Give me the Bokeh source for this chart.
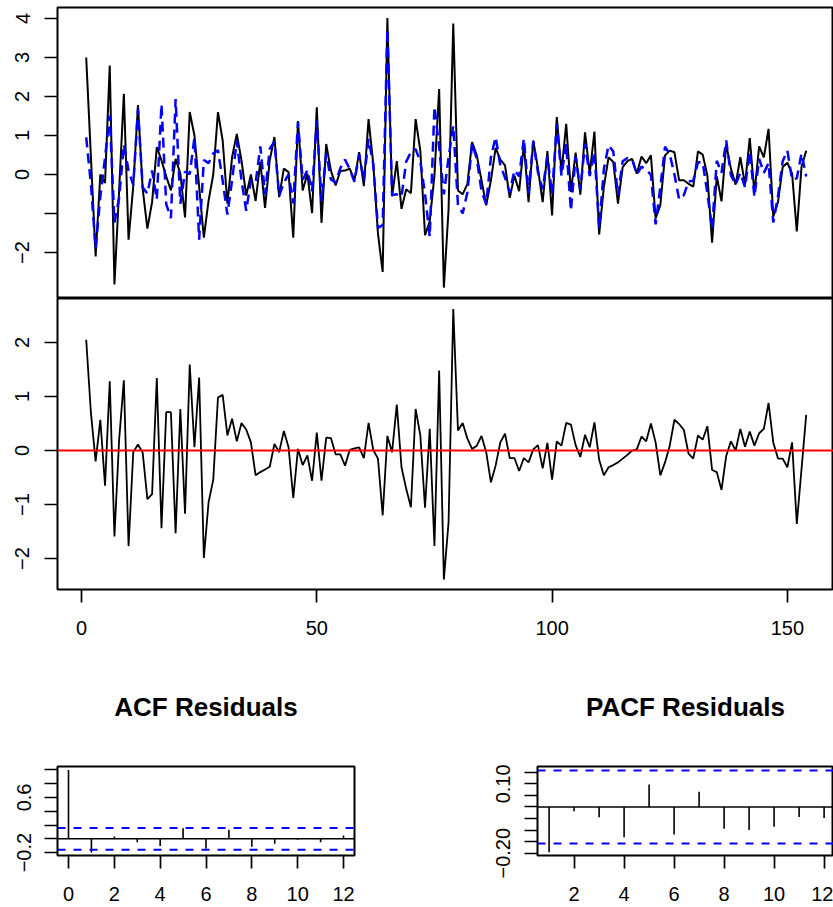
from bokeh.plotting import figure
from bokeh.layouts import column, row
from bokeh.models import FixedTicker, Span, Range1d
from bokeh.embed import file_html
from bokeh.resources import INLINE

# ---------------- data ----------------
time_index = list(range(1, 155))

actual = [3.0, 0.45, -2.1, 0.0, -0.22, 2.79, -2.82, -0.4, 2.07, -1.67,
          -0.3, 1.78, -0.37, -1.39, -0.71, 0.7, 0.36, -0.05, -0.41, 0.4,
          0.02, -1.1, 1.6, 1.0, -0.32, -1.62, -0.67, 0.0, 1.6, 0.87,
          -0.75, 0.44, 1.04, 0.36, -0.54, 0.0, -0.68, 0.32, -0.86, 0.36,
          0.96, -0.58, 0.15, 0.06, -1.62, 1.37, -0.41, 0.02, -0.99, 1.72,
          -1.24, 0.78, 0.1, -0.28, 0.09, 0.1, 0.15, -0.15, 0.57, -0.3,
          1.42, 0.27, -1.52, -2.5, 4.01, -0.56, 0.34, -0.88, -0.38, -0.48,
          1.42, 0.61, -1.56, -1.2, -0.03, 2.19, -2.9, -0.9, 3.87, -0.41,
          -0.51, -0.24, 0.83, 0.49, -0.15, -0.79, -0.15, 0.68, 0.38, 0.23,
          -0.6, -0.03, -0.43, 0.78, -0.71, 0.87, 0.15, -0.71, 0.6, -1.05,
          1.47, 0.06, 1.3, -0.45, 0.56, -0.52, 1.08, 0.02, 1.1, -1.54,
          -0.32, 0.44, 0.32, -0.75, 0.19, 0.34, 0.4, 0.02, 0.46, 0.29,
          0.49, -1.13, -0.79, 0.49, 0.61, 0.57, -0.15, -0.15, -0.24, -0.31,
          0.59, 0.51, -0.03, -1.75, -0.05, -0.69, 0.77, 0.15, -0.26, 0.44,
          -0.26, 0.93, -0.48, 0.72, 0.44, 1.17, -1.08, -0.71, 0.19, 0.3,
          0.02, -1.46, 0.19, 0.61]

fitted = [0.95, -0.25, -1.9, -0.57, 0.43, 1.51, -1.23, -0.6, 0.77, 0.1,
          -0.27, 1.67, -0.33, -0.49, 0.1, -0.64, 1.8, -0.76, -1.12, 1.93,
          -0.75, 0.07, 0.01, 0.94, -1.67, 0.37, 0.29, 0.54, 0.62, -0.16,
          -1.03, -0.15, 0.87, -0.15, -0.93, -0.15, -0.22, 0.72, -0.51, 0.66,
          0.84, -0.55, -0.21, 0.0, -0.74, 1.34, -0.14, 0.11, -0.43, 1.39,
          -0.68, 0.54, -0.13, -0.21, 0.16, 0.38, 0.14, -0.19, 0.51, -0.16,
          0.91, 0.26, -1.37, -1.3, 3.74, -0.53, -0.51, -0.57, 0.33, 0.57,
          0.65, 0.33, -0.5, -1.6, 1.74, 0.71, -0.51, 0.43, 1.25, -0.78,
          -1.0, -0.46, 0.8, 0.4, -0.42, -0.76, 0.44, 0.96, 0.23, -0.08,
          -0.46, 0.11, -0.05, 0.92, -0.49, 0.85, 0.05, -0.38, 0.46, -0.51,
          1.3, -0.03, 0.79, -0.93, 0.46, -0.4, 0.79, -0.04, 0.58, -1.37,
          0.14, 0.75, 0.59, -0.53, 0.34, 0.42, 0.4, 0.0, 0.2, 0.12,
          -0.01, -1.28, -0.33, 0.71, 0.52, 0.0, -0.64, -0.53, -0.18, -0.16,
          0.31, 0.31, -0.48, -1.39, 0.35, 0.04, 0.87, -0.02, -0.26, 0.04,
          -0.33, 0.58, -0.57, 0.4, 0.04, 0.29, -1.23, -0.56, 0.34, 0.61,
          -0.13, -0.1, 0.54, -0.05]

residuals = [2.05, 0.7, -0.2, 0.57, -0.65, 1.28, -1.59, 0.2, 1.3, -1.77,
             -0.03, 0.11, -0.04, -0.9, -0.81, 1.34, -1.44, 0.71, 0.71, -1.53,
             0.77, -1.17, 1.59, 0.06, 1.35, -1.99, -0.96, -0.54, 0.98, 1.03,
             0.28, 0.59, 0.17, 0.51, 0.39, 0.15, -0.46, -0.4, -0.35, -0.3,
             0.12, -0.03, 0.36, 0.06, -0.88, 0.03, -0.27, -0.09, -0.56, 0.33,
             -0.56, 0.24, 0.23, -0.07, -0.07, -0.28, 0.01, 0.04, 0.06, -0.14,
             0.51, 0.01, -0.15, -1.2, 0.27, -0.03, 0.85, -0.31, -0.71, -1.05,
             0.77, 0.28, -1.06, 0.4, -1.77, 1.48, -2.39, -1.33, 2.62, 0.37,
             0.51, 0.22, 0.03, 0.09, 0.27, -0.03, -0.59, -0.28, 0.15, 0.31,
             -0.14, -0.14, -0.38, -0.14, -0.22, 0.02, 0.1, -0.33, 0.14, -0.54,
             0.17, 0.09, 0.51, 0.48, 0.1, -0.12, 0.29, 0.06, 0.52, -0.17,
             -0.46, -0.31, -0.27, -0.22, -0.15, -0.08, 0.0, 0.02, 0.26, 0.17,
             0.5, 0.15, -0.46, -0.22, 0.09, 0.57, 0.49, 0.38, -0.06, -0.15,
             0.28, 0.2, 0.45, -0.36, -0.4, -0.73, -0.1, 0.17, 0.0, 0.4,
             0.07, 0.35, 0.09, 0.32, 0.4, 0.88, 0.15, -0.15, -0.15, -0.31,
             0.15, -1.36, -0.35, 0.66]

acf_lags = list(range(0, 13))
acf_values = [1.0, -0.2, 0.034, -0.048, -0.106, 0.155, -0.145, 0.13, -0.115,
              -0.073, -0.015, -0.048, 0.048]
pacf_lags = list(range(1, 13))
pacf_values = [-0.196, -0.019, -0.044, -0.131, 0.097, -0.119, 0.066, -0.094,
               -0.1, -0.086, -0.043, -0.048]
conf_limit = 0.158

acf_title = "ACF Residuals"
pacf_title = "PACF Residuals"

ts_x_ticks = [0, 50, 100, 150]
ts_x_labels = {0: "0", 50: "50", 100: "100", 150: "150"}
top_y_ticks = [-2, -1, 0, 1, 2, 3, 4]
top_y_labels = {-2: "\u22122", -1: "", 0: "0", 1: "1", 2: "2", 3: "3", 4: "4"}
res_y_ticks = [-2, -1, 0, 1, 2]
res_y_labels = {-2: "\u22122", -1: "\u22121", 0: "0", 1: "1", 2: "2"}
acf_x_ticks = [0, 2, 4, 6, 8, 10, 12]
acf_x_labels = {0: "0", 2: "2", 4: "4", 6: "6", 8: "8", 10: "10", 12: "12"}
acf_y_ticks = [-0.2, 0.0, 0.2, 0.4, 0.6, 0.8, 1.0]
acf_y_labels = {-0.2: "\u22120.2", 0.0: "", 0.2: "", 0.4: "", 0.6: "0.6", 0.8: "", 1.0: ""}
pacf_x_ticks = [2, 4, 6, 8, 10, 12]
pacf_x_labels = {2: "2", 4: "4", 6: "6", 8: "8", 10: "10", 12: "12"}
pacf_y_ticks = [-0.2, -0.15, -0.1, -0.05, 0.0, 0.05, 0.1, 0.15]
pacf_y_labels = {-0.2: "\u22120.20", -0.15: "", -0.1: "", -0.05: "", 0.0: "",
                 0.05: "", 0.1: "0.10", 0.15: ""}

FONT = "Liberation Sans"


def base_fig(**kw):
    p = figure(output_backend="svg", toolbar_location=None, **kw)
    p.xgrid.visible = False
    p.ygrid.visible = False
    p.outline_line_color = "black"
    p.outline_line_width = 2
    p.background_fill_color = "white"
    p.border_fill_color = "white"
    return p


def style_axis(ax, ticks, labels, tick_len, standoff, vertical=False):
    ax.ticker = FixedTicker(ticks=ticks)
    ax.major_label_overrides = labels
    ax.major_tick_out = tick_len
    ax.major_tick_in = 0
    ax.minor_tick_out = 0
    ax.minor_tick_in = 0
    ax.major_tick_line_width = 1.7
    ax.major_tick_line_color = "black"
    ax.axis_line_color = None
    ax.major_label_text_font = FONT
    ax.major_label_text_font_size = "20px"
    ax.major_label_text_color = "black"
    ax.major_label_standoff = standoff
    if vertical:
        ax.major_label_orientation = "parallel"


def style_title(p, text):
    p.title.text = text
    p.title.align = "center"
    p.title.vertical_align = "bottom"
    p.title.text_font = FONT
    p.title.text_font_size = "26px"
    p.title.text_font_style = "bold"
    p.title.text_color = "black"
    p.title.standoff = 89


# ---------------- top panel: actual vs fitted ----------------
p1 = base_fig(width=833, height=298,
              x_range=Range1d(-5.1, 159.8), y_range=Range1d(-3.18, 4.28),
              x_axis_location=None,
              min_border_left=57, min_border_right=0,
              min_border_top=7, min_border_bottom=0)
p1.line(time_index, actual, line_color="black", line_width=2)
p1.line(time_index, fitted, line_color="#0000FF", line_width=2.5, line_dash="10 6")
style_axis(p1.yaxis[0], top_y_ticks, top_y_labels, 13, 15, vertical=True)

# ---------------- residual panel ----------------
p2 = base_fig(width=833, height=346,
              x_range=p1.x_range, y_range=Range1d(-2.574, 2.815),
              min_border_left=57, min_border_right=0,
              min_border_top=0, min_border_bottom=55)
p2.line(time_index, residuals, line_color="black", line_width=1.8)
p2.add_layout(Span(location=0, dimension="width", line_color="#FF0000", line_width=2))
style_axis(p2.yaxis[0], res_y_ticks, res_y_labels, 13, 15, vertical=True)
style_axis(p2.xaxis[0], ts_x_ticks, ts_x_labels, 13, 18)

# ---------------- ACF ----------------
p3 = base_fig(width=480, height=263,
              x_range=Range1d(-0.48, 12.48), y_range=Range1d(-0.242, 1.049),
              min_border_left=57, min_border_right=126,
              min_border_top=122, min_border_bottom=52)
p3.segment(x0=acf_lags, y0=[0] * len(acf_lags), x1=acf_lags, y1=acf_values,
           line_color="black", line_width=1.6)
p3.add_layout(Span(location=0, dimension="width", line_color="black", line_width=1.5))
for lim in (conf_limit, -conf_limit):
    p3.add_layout(Span(location=lim, dimension="width", line_color="#0000FF",
                       line_width=2, line_dash="8 8"))
style_axis(p3.yaxis[0], acf_y_ticks, acf_y_labels, 13, 13, vertical=True)
style_axis(p3.xaxis[0], acf_x_ticks, acf_x_labels, 13, 18)
style_title(p3, acf_title)

# ---------------- PACF ----------------
p4 = base_fig(width=353, height=263,
              x_range=Range1d(0.536, 12.376), y_range=Range1d(-0.21, 0.175),
              min_border_left=57, min_border_right=0,
              min_border_top=122, min_border_bottom=52)
p4.segment(x0=pacf_lags, y0=[0] * len(pacf_lags), x1=pacf_lags, y1=pacf_values,
           line_color="black", line_width=1.6)
p4.add_layout(Span(location=0, dimension="width", line_color="black", line_width=1.5))
for lim in (conf_limit, -conf_limit):
    p4.add_layout(Span(location=lim, dimension="width", line_color="#0000FF",
                       line_width=2, line_dash="8 8"))
style_axis(p4.yaxis[0], pacf_y_ticks, pacf_y_labels, 13, 14, vertical=True)
style_axis(p4.xaxis[0], pacf_x_ticks, pacf_x_labels, 13, 18)
style_title(p4, pacf_title)

layout = column(p1, p2, row(p3, p4, spacing=0), spacing=0)

open("out.html", "w").write(file_html(layout, INLINE))
